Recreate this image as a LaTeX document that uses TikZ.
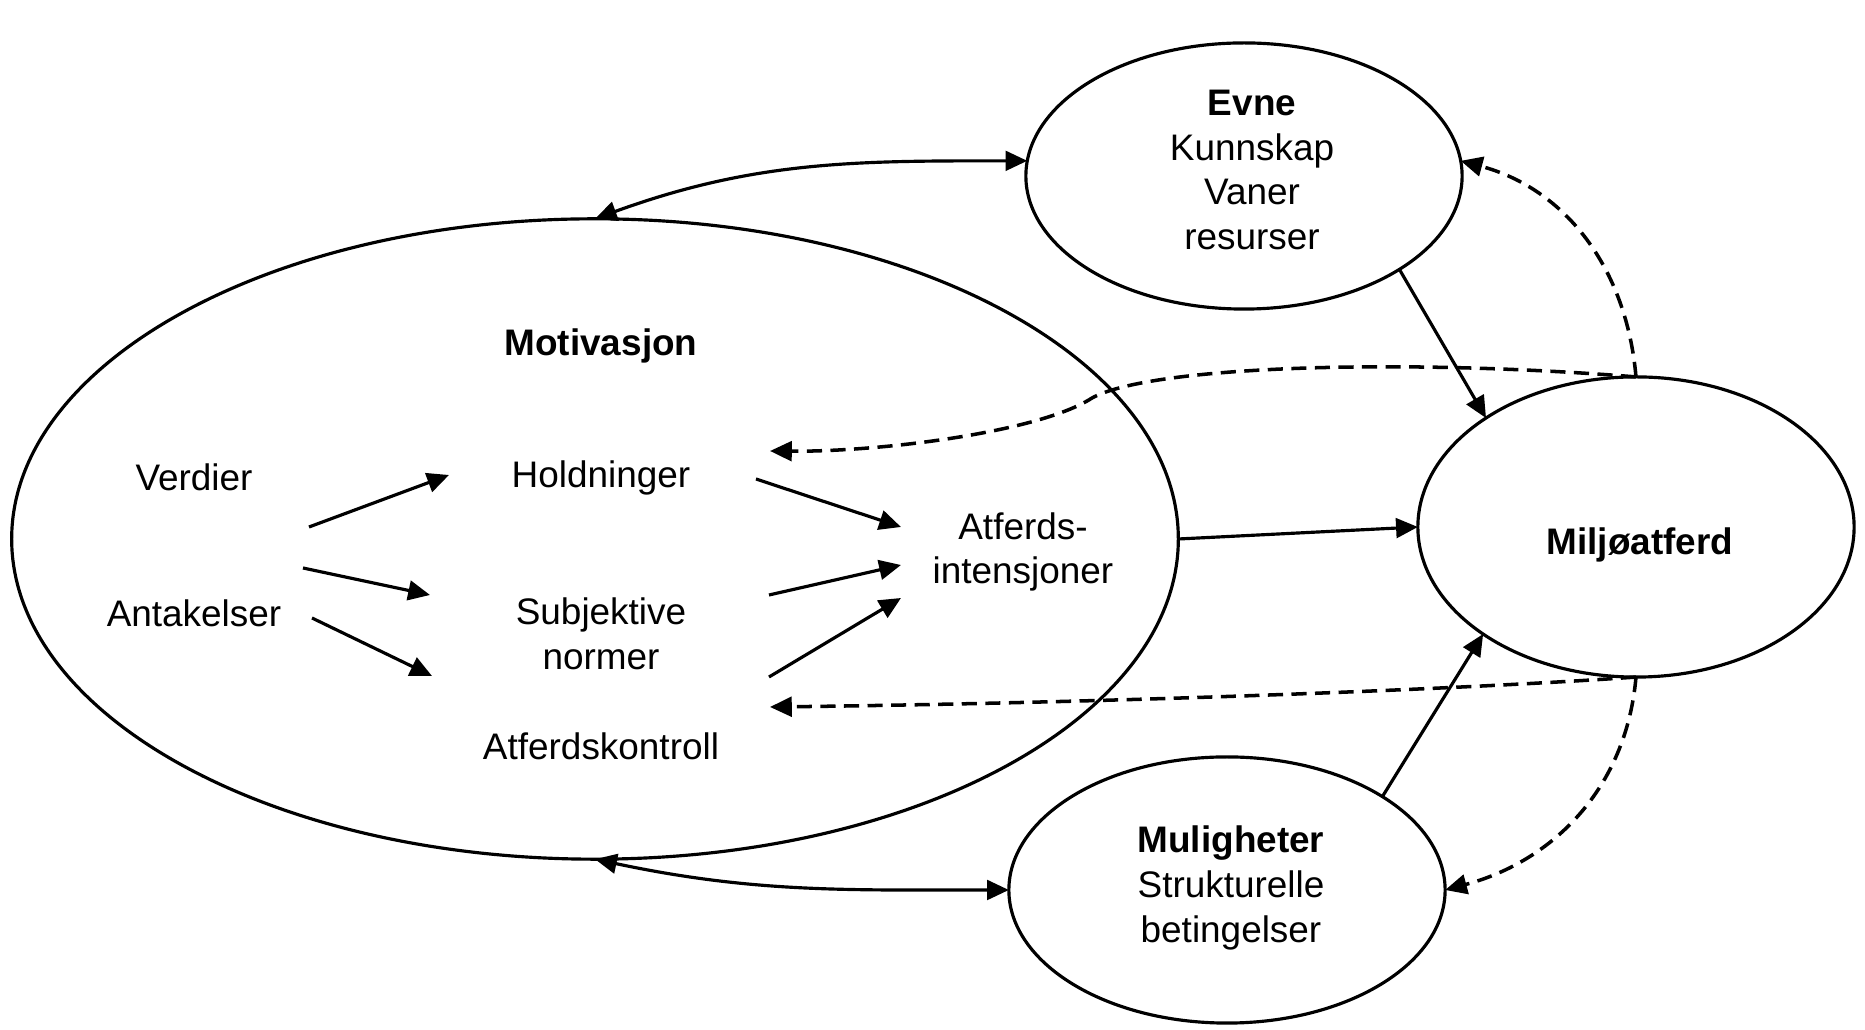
\documentclass[tikz,border=0pt]{standalone}
\usepackage{fontspec}
\setmainfont{Liberation Sans}
\usetikzlibrary{shapes.geometric,arrows.meta}
\begin{document}
\begin{tikzpicture}
% Model of environmental behaviour, coordinates in pixels of the figure
\def\unitsz{0.01cm}
\providecommand{\modelOvalWidth}{0.9pt}
\providecommand{\modelArrowWidth}{0.9pt}
\providecommand{\modelTextFont}{\fontsize{10.5}{12.7}\selectfont}
\tikzset{
  oval/.style={ellipse, draw=black, line width=\modelOvalWidth, inner sep=0pt, outer sep=0pt},
  lbl/.style={font=\modelTextFont, align=center, inner sep=0pt},
  head/.style={lbl, font=\modelTextFont\bfseries},
  link/.style={line width=\modelArrowWidth, -{Triangle[length=6.2pt,width=5.6pt]}},
  twoway/.style={line width=\modelArrowWidth, {Triangle[length=6.2pt,width=5.6pt]}-{Triangle[length=6.2pt,width=5.6pt]}},
  feedback/.style={link, line width=1pt, dash pattern=on 4.3pt off 2.4pt},
}
\begin{scope}[x=\unitsz, y=\unitsz, line join=round]
  \useasboundingbox (0,0) rectangle (1865,1030);
  % Ellipses
  \node[oval, minimum width=11.66cm, minimum height=6.40cm] (mot) at (595,491) {};
  \node[oval, minimum width=4.36cm, minimum height=2.66cm] (evne) at (1244,854) {};
  \node[oval, minimum width=4.36cm, minimum height=3.00cm] (milj) at (1636,503) {};
  \node[oval, minimum width=4.36cm, minimum height=2.66cm] (mulig) at (1227,140) {};
  % Texts
  \node[head] (motivasjon) at (601,684) {Motivasjon};
  \node[lbl] (verdier) at (194,553) {Verdier};
  \node[lbl] (antakelser) at (194,417) {Antakelser};
  \node[lbl] (holdninger) at (601,552) {Holdninger};
  \node[lbl] (normer) at (601,396) {Subjektive\\normer};
  \node[lbl] (kontroll) at (601,284) {Atferdskontroll};
  \node[lbl] (intensjoner) at (1023,478) {Atferds-\\intensjoner};
  \node[lbl] (evne-txt) at (1252,860) {\textbf{Evne}\\Kunnskap\\Vaner\\resurser};
  \node[head] (milj-txt) at (1640,485) {Miljøatferd};
  \node[lbl] (mulig-txt) at (1231,142) {\textbf{Muligheter}\\Strukturelle\\betingelser};
  % Arrow ends inside Motivasjon
  \coordinate (verd-out) at (309,503);
  \coordinate (hold-in) at (449,555);
  \coordinate (ant-out1) at (303,462);
  \coordinate (norm-in) at (430,435);
  \coordinate (ant-out2) at (312,412);
  \coordinate (kontr-in) at (432,354);
  \coordinate (hold-out) at (756,551);
  \coordinate (int-in1) at (901,503);
  \coordinate (norm-out) at (769,435);
  \coordinate (int-in2) at (901,465);
  \coordinate (kontr-out) at (769,353);
  \coordinate (int-in3) at (901,432);
  \coordinate (top-tip) at (770,579);
  \coordinate (bot-tip) at (770,323);
  % Inner arrows
  \draw[link] (verd-out) -- (hold-in);
  \draw[link] (ant-out1) -- (norm-in);
  \draw[link] (ant-out2) -- (kontr-in);
  \draw[link] (hold-out) -- (int-in1);
  \draw[link] (norm-out) -- (int-in2);
  \draw[link] (kontr-out) -- (int-in3);
  % Arrows between ellipses
  \draw[twoway] (mot.north) to[out=20,in=180] (evne.176);
  \draw[twoway] (mot.south) to[out=-12,in=180] (mulig.west);
  \draw[link] (mot.east) -- (milj.west);
  \draw[link] (evne.-31.6) -- (milj.144.7);
  \draw[link] (mulig.31.3) -- (milj.215);
  % Feedback
  \draw[feedback] (milj.north) to[out=95,in=-15] (evne.4);
  \draw[feedback] (milj.south) to[out=-95,in=15] (mulig.east);
  \draw[feedback] (milj.north) .. controls (1400,672) and (1150,664) .. (1092,632)
    .. controls (1040,598) and (880,578) .. (top-tip);
  \draw[feedback] (milj.south) .. controls (1450,340) and (1100,327) .. (bot-tip);
\end{scope}
\end{tikzpicture}
\end{document}
